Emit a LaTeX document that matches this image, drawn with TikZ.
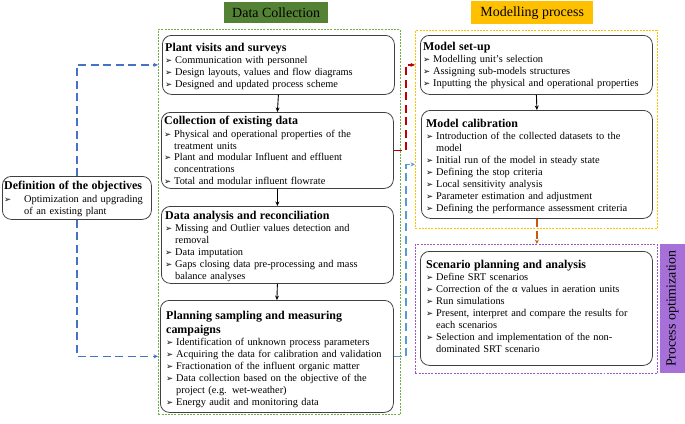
\documentclass[tikz,border=0pt]{standalone}
\usepackage{fontspec}
\setmainfont{Liberation Serif}
\newfontfamily\symfont{DejaVu Sans}
\usetikzlibrary{arrows.meta}
\setlength{\parindent}{0pt}
\definecolor{dcgreen}{RGB}{84,130,53}
\definecolor{dcline}{RGB}{112,173,71}
\definecolor{mpyellow}{RGB}{255,192,0}
\definecolor{popurple}{RGB}{167,112,216}
\definecolor{poline}{RGB}{150,90,205}
\definecolor{objblue}{RGB}{68,114,196}
\definecolor{calblue}{RGB}{91,155,213}
\definecolor{setred}{RGB}{192,0,0}
\definecolor{scorange}{RGB}{197,90,17}
\newcommand{\bul}{{\symfont\fontsize{8.5}{9}\selectfont ➢}}
\newcommand{\ttl}[1]{{\fontsize{12}{14}\selectfont\bfseries #1\par}\vspace{0.5pt}}
\newcommand{\itm}[2][10bp]{\par\hangindent=#1\noindent\makebox[#1][l]{\bul}#2\par}

\begin{document}
\begin{tikzpicture}[x=1bp,y=-1bp,
	box/.style={draw=black!75,line width=.8pt,rounded corners=9bp,anchor=north west,inner sep=0pt},
	txt/.style={anchor=north west,inner sep=0pt,align=left,font=\fontsize{10.4}{12}\selectfont},
	frm/.style={dash pattern=on 2pt off 1.2pt,line width=.8pt,anchor=north west,inner sep=0pt},
	lbl/.style={anchor=north west,inner sep=0pt,font=\fontsize{14}{16}\selectfont},
	flow/.style={-{Stealth[length=4.5pt,width=4pt]},line width=.9pt},
	link/.style={-{Stealth[length=4.5pt,width=4pt]},line width=1.5pt,dash pattern=on 8bp off 4.5bp}]
	\useasboundingbox (0,0) rectangle (685,423);

	% headers and frames
	\node[lbl,fill=dcgreen,minimum width=104bp,minimum height=21bp] (dclabel) at (224,2) {Data Collection};
	\node[lbl,fill=mpyellow,minimum width=122bp,minimum height=23bp] (mplabel) at (471,1) {Modelling process};
	\node[lbl,fill=popurple,minimum width=129bp,minimum height=25bp,rotate=90,anchor=center] (polabel) at (672.5,308.5) {Process optimization};
	\node[frm,draw=dcline,minimum width=242bp,minimum height=385bp] (dcfrm) at (158,29) {};
	\node[frm,draw=mpyellow,minimum width=242bp,minimum height=198bp] (mpfrm) at (415,30) {};
	\node[frm,draw=poline,minimum width=242bp,minimum height=129bp] (pofrm) at (415,244) {};

	% data collection
	\node[box,minimum width=232bp,minimum height=59bp] (visit) at (162,35) {};
	\node[txt,text width=227bp] (visittxt) at (165,43) {\ttl{Plant visits and surveys}
		\itm{Communication with personnel}
		\itm{Design layouts, values and flow diagrams}
		\itm{Designed and updated process scheme}};
	\node[box,minimum width=232bp,minimum height=76bp] (coll) at (161,112) {};
	\node[txt,text width=228bp] (colltxt) at (164,116) {\ttl{Collection of existing data}
		\itm{Physical and operational properties of the\newline treatment units}
		\itm{Plant and modular Influent and effluent\newline concentrations}
		\itm{Total and modular influent flowrate}};
	\node[box,minimum width=232bp,minimum height=77bp] (anal) at (161,206) {};
	\node[txt,text width=228bp] (analtxt) at (165,211) {\ttl{Data analysis and reconciliation}
		\itm{Missing and Outlier values detection and\newline removal}
		\itm{Data imputation}
		\itm{Gaps closing data pre-processing and mass\newline balance analyses}};
	\node[box,minimum width=233bp,minimum height=112bp] (plan) at (160,300) {};
	\node[txt,text width=224bp] (plantxt) at (166,311) {\ttl{Planning sampling and measuring\\campaigns}
		\itm{Identification of unknown process parameters}
		\itm{Acquiring the data for calibration and validation}
		\itm{Fractionation of the influent organic matter}
		\itm{Data collection based on the objective of the\newline project (e.g. wet-weather)}
		\itm{Energy audit and monitoring data}};

	% modelling and optimization
	\node[box,minimum width=232bp,minimum height=59bp] (setup) at (420,35) {};
	\node[txt,text width=227bp] (setuptxt) at (423,42) {\ttl{Model set-up}
		\itm{Modelling unit's selection}
		\itm{Assigning sub-models structures}
		\itm{Inputting the physical and operational properties}};
	\node[box,minimum width=231bp,minimum height=108bp] (calib) at (421,110) {};
	\node[txt,text width=224bp] (calibtxt) at (426,119) {\ttl{Model calibration}
		\itm{Introduction of the collected datasets to the\newline model}
		\itm{Initial run of the model in steady state}
		\itm{Defining the stop criteria}
		\itm{Local sensitivity analysis}
		\itm{Parameter estimation and adjustment}
		\itm{Defining the performance assessment criteria}};
	\node[box,minimum width=232bp,minimum height=114bp] (scen) at (420,251) {};
	\node[txt,text width=224bp] (scentxt) at (426,260) {\ttl{Scenario planning and analysis}
		\itm{Define SRT scenarios}
		\itm{Correction of the α values in aeration units}
		\itm{Run simulations}
		\itm{Present, interpret and compare the results for\newline each scenarios}
		\itm{Selection and implementation of the non-\newline dominated SRT scenario}};

	% objectives
	\node[box,minimum width=149bp,minimum height=43bp] (obj) at (2,176) {};
	\node[txt,text width=148bp] (objtxt) at (4,181) {\ttl{Definition of the objectives}
		\itm[20bp]{Optimization and upgrading\newline of an existing plant}};

	% connectors
	\draw[flow] (visit.south) -- (coll.north);
	\draw[flow] (coll.south) -- (anal.north);
	\draw[flow] (anal.south) -- (plan.north);
	\draw[flow] (setup.south) -- (calib.north);
	\coordinate (rise) at (406,0);
	\draw[link,objblue] (obj.north) |- (visit.west -| dcfrm.west);
	\draw[link,objblue] (obj.south) |- (plan.west -| dcfrm.west);
	\draw[link,setred] (coll.east) -| (rise |- setup.west) -- (setup.west -| mpfrm.west);
	\draw[link,calblue] (plan.east) -| (rise |- calib.west) -- (calib.west -| mpfrm.west);
	\draw[link,scorange] (calib.south) -- (calib.south |- pofrm.north);
\end{tikzpicture}
\end{document}
